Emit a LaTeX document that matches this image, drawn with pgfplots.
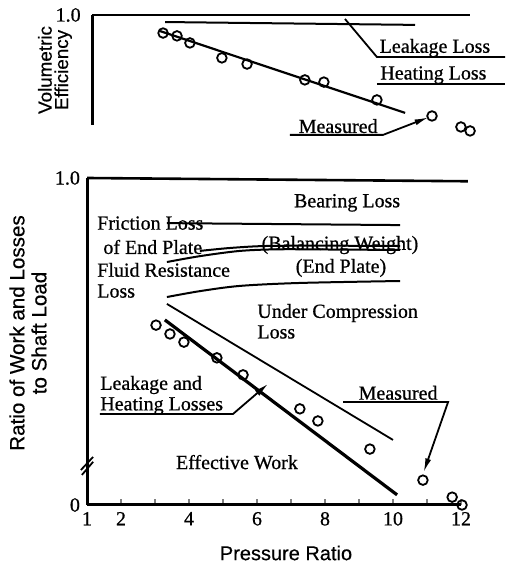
\documentclass[border=0pt]{standalone}
\usepackage{fontspec}
\setmainfont{Liberation Serif}[FakeBold=0.7]
\setsansfont{Liberation Sans}[FakeBold=0.5]
\usepackage{pgfplots}
\pgfplotsset{compat=1.18}
\usetikzlibrary{arrows.meta}
\begin{document}
\begin{tikzpicture}[txt/.style={font=\fontsize{10}{12}\selectfont, inner sep=0pt}]
\useasboundingbox (0,0) rectangle (253pt,283pt);
% ---------------- top panel ----------------
\begin{axis}[at={(46pt,220.5pt)}, anchor=south west, scale only axis,
  width=187pt, height=55pt, xmin=1, xmax=12, ymin=0.5, ymax=1,
  enlargelimits=false, clip=false,
  axis x line=none, axis y line=left, axis line style={-, line width=1.5pt},
  ytick={1}, yticklabels={1.0}, ytick style={draw=none},
  yticklabel style={font=\fontsize{10}{12}\selectfont},
  xtick=\empty]
\addplot[line width=1.3pt] coordinates {(1,1.0) (12.12,1.0)};
\addplot[line width=1pt] coordinates {(3.15,0.968) (10.5,0.955)};
\addplot[line width=1.1pt] coordinates {(3.0,0.927) (10.21,0.555)};
\addplot[only marks, mark=o, mark size=2.4pt, mark options={line width=0.9pt}] coordinates {
(3.09,0.918) (3.50,0.905) (3.88,0.873) (4.82,0.805) (5.56,0.777)
(7.26,0.705) (7.82,0.695) (9.38,0.614) (11.0,0.541) (11.85,0.491) (12.12,0.473)};
% annotations
\node[txt, anchor=west] at (axis cs:9.45,0.85) {Leakage Loss};
\draw[line width=0.9pt] (axis cs:8.44,0.982) -- (axis cs:9.38,0.809) -- (axis cs:13.15,0.809);
\node[txt, anchor=west] at (axis cs:9.47,0.727) {Heating Loss};
\draw[line width=0.9pt] (axis cs:9.38,0.686) -- (axis cs:13.15,0.686);
\node[txt] at (axis cs:8.24,0.495) {Measured};
\draw[line width=0.9pt, -{Latex[length=7pt,width=3pt]}] (axis cs:6.82,0.455) -- (axis cs:9.56,0.455) -- (axis cs:10.9,0.535);
\end{axis}
% ---------------- bottom panel ----------------
\begin{axis}[at={(43.5pt,30.5pt)}, anchor=south west, scale only axis,
  width=187pt, height=163.5pt, xmin=1, xmax=12, ymin=0, ymax=1,
  enlargelimits=false, clip=false,
  axis lines=left, axis line style={-, line width=1.5pt},
  xtick={1,2,3,4,5,6,7,8,9,10,11,12}, xticklabels={1,2,,4,,6,,8,,10,,12},
  tick align=inside, major tick length=3pt, xtick style={line width=0.8pt},
  ytick={0,1}, yticklabels={0,1.0}, ytick style={draw=none},
  ticklabel style={font=\fontsize{10}{12}\selectfont}]
\addplot[line width=1.3pt] coordinates {(1,1.0) (12.2,0.99)};
% bearing loss lower boundary
\addplot[line width=1pt] coordinates {(3.35,0.862) (10.21,0.856)};
% end-plate friction
\addplot[line width=1pt, smooth] coordinates {(4.32,0.777) (5.21,0.786) (6.24,0.792) (8.0,0.793) (10.21,0.792)};
% balancing weight
\addplot[line width=1pt, smooth] coordinates {(3.35,0.743) (4.32,0.761) (5.5,0.777) (6.68,0.782) (8.5,0.781) (10.21,0.780)};
% fluid resistance
\addplot[line width=1pt, smooth] coordinates {(3.35,0.636) (4.32,0.654) (5.5,0.670) (7.26,0.679) (10.21,0.685)};
% under compression
\addplot[line width=0.9pt] coordinates {(3.35,0.615) (10.0,0.199)};
% leakage and heating (thick)
\addplot[line width=1.6pt] coordinates {(3.29,0.566) (10.12,0.031)};
\addplot[only marks, mark=o, mark size=2.4pt, mark options={line width=0.9pt}] coordinates {
(3.03,0.550) (3.44,0.523) (3.85,0.498) (4.82,0.450) (5.59,0.398)
(7.26,0.294) (7.79,0.257) (9.32,0.171) (10.88,0.076) (11.74,0.024) (12.03,0.0)};
% axis break
\draw[line width=0.9pt] (axis cs:0.82,0.107) -- (axis cs:1.18,0.147);
\draw[line width=0.9pt] (axis cs:0.85,0.092) -- (axis cs:1.18,0.132);
% annotations
\node[txt] at (axis cs:8.65,0.924) {Bearing Loss};
\node[txt, anchor=west] at (axis cs:1.29,0.862) {Friction Loss};
\node[txt, anchor=west] at (axis cs:1.47,0.789) {of End Plate};
\node[txt] at (axis cs:8.44,0.795) {(Balancing Weight)};
\node[txt, anchor=west] at (axis cs:1.29,0.719) {Fluid Resistance};
\node[txt, anchor=west] at (axis cs:1.29,0.654) {Loss};
\node[txt] at (axis cs:8.47,0.725) {(End Plate)};
\node[txt, anchor=west] at (axis cs:6.0,0.587) {Under Compression};
\node[txt, anchor=west] at (axis cs:6.0,0.529) {Loss};
\node[txt, anchor=west] at (axis cs:1.38,0.367) {Leakage and};
\node[txt, anchor=west] at (axis cs:1.38,0.303) {Heating Losses};
\draw[line width=0.9pt, -{Latex[length=7pt,width=3.5pt]}] (axis cs:1.38,0.278) -- (axis cs:5.29,0.278) -- (axis cs:6.32,0.370);
\node[txt] at (axis cs:10.15,0.343) {Measured};
\draw[line width=0.9pt, -{Latex[length=7pt,width=3pt]}] (axis cs:8.53,0.315) -- (axis cs:11.62,0.315) -- (axis cs:10.9,0.1);
\node[txt] at (axis cs:5.41,0.131) {Effective Work};
\end{axis}
% axis titles
\node[rotate=90, font=\sffamily\fontsize{9.4}{8.2}\selectfont, align=center, inner sep=0pt] at (27.5pt,248pt) {Volumetric\\Efficiency};
\node[rotate=90, font=\sffamily\fontsize{10.3}{11}\selectfont, align=center, inner sep=0pt] at (14pt,116.5pt) {Ratio of Work and Losses\\to Shaft Load};
\node[font=\sffamily\fontsize{10}{12}\selectfont, inner sep=0pt] at (143pt,6.5pt) {Pressure Ratio};
\end{tikzpicture}
\end{document}
